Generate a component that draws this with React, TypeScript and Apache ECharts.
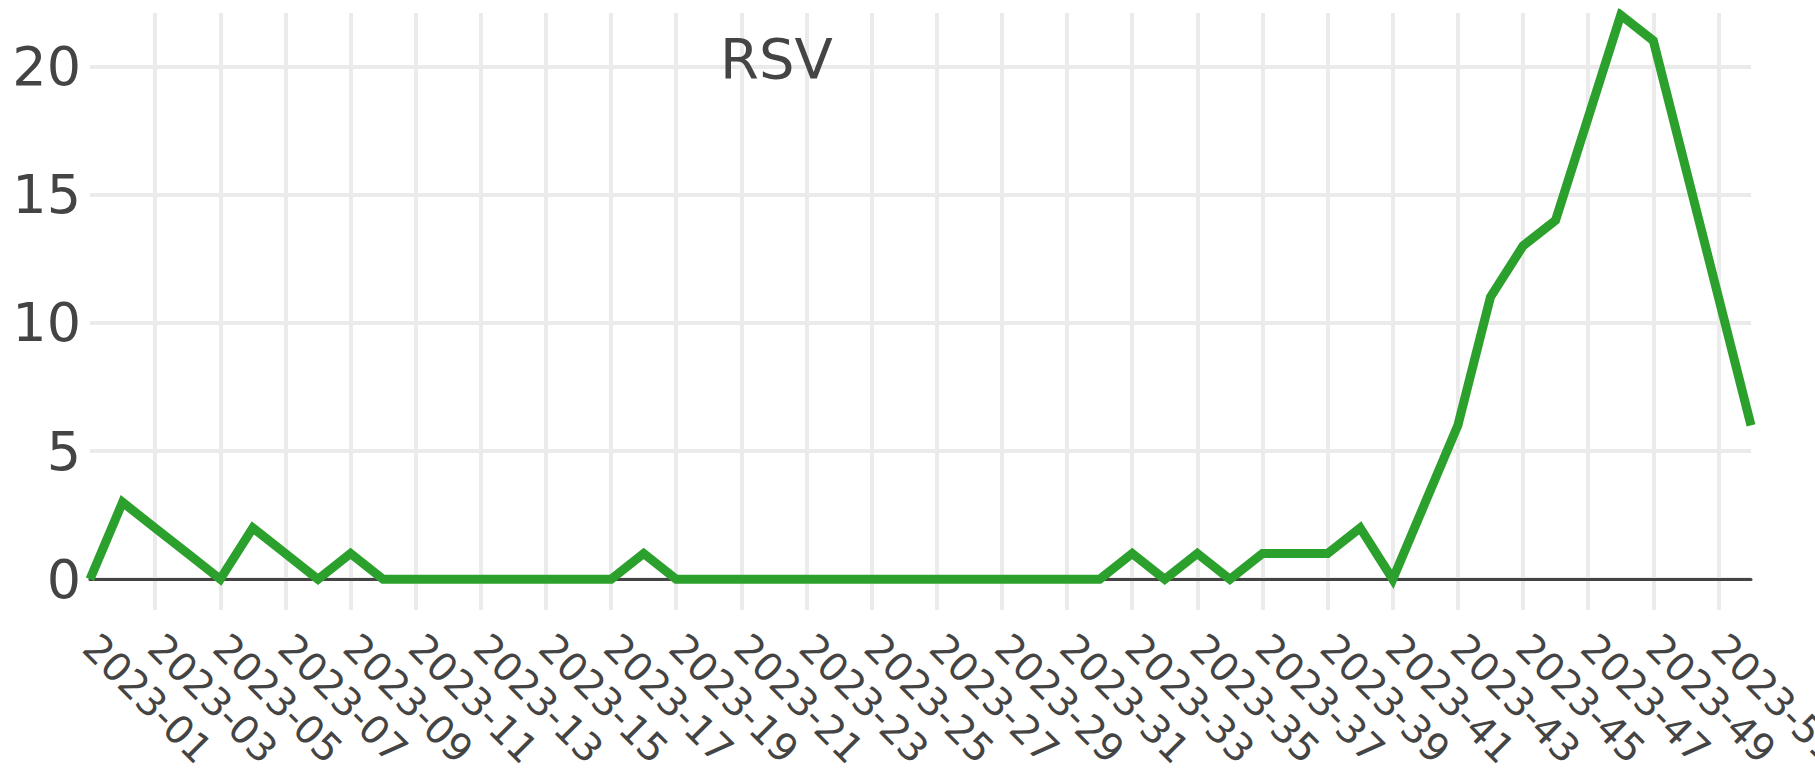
import React, { useEffect, useRef } from "react";
import * as echarts from "echarts";

const weeks: string[] = [
  "2023-01","2023-02","2023-03","2023-04","2023-05","2023-06","2023-07","2023-08","2023-09","2023-10",
  "2023-11","2023-12","2023-13","2023-14","2023-15","2023-16","2023-17","2023-18","2023-19","2023-20",
  "2023-21","2023-22","2023-23","2023-24","2023-25","2023-26","2023-27","2023-28","2023-29","2023-30",
  "2023-31","2023-32","2023-33","2023-34","2023-35","2023-36","2023-37","2023-38","2023-39","2023-40",
  "2023-41","2023-42","2023-43","2023-44","2023-45","2023-46","2023-47","2023-48","2023-49","2023-50",
  "2023-51","2023-52",
];

const rsvValues: number[] = [
  0, 3, 2, 1, 0, 2, 1, 0, 1, 0,
  0, 0, 0, 0, 0, 0, 0, 1, 0, 0,
  0, 0, 0, 0, 0, 0, 0, 0, 0, 0,
  0, 0, 1, 0, 1, 0, 1, 1, 1, 2,
  0, 3, 6, 11, 13, 14, 18, 22, 21, 16,
  11, 6,
];

const titleText = "RSV";
const yMin = -1.2;
const yMax = 22.08;

export default function App() {
  const ref = useRef<HTMLDivElement>(null);
  useEffect(() => {
    if (!ref.current) return;
    const chart = echarts.init(ref.current, null, { renderer: "svg" });
    const font = "'DejaVu Sans', Verdana, sans-serif";
    chart.setOption({
      animation: false,
      backgroundColor: "#ffffff",
      title: {
        text: titleText,
        left: 720,
        top: 30,
        padding: 0,
        textStyle: { fontFamily: font, fontSize: 56, fontWeight: "normal", color: "#444" },
      },
      grid: { left: 90, right: 64, top: 13, bottom: 164, outerBoundsMode: "none", containLabel: false },
      xAxis: {
        type: "category",
        data: weeks,
        boundaryGap: false,
        axisLine: { show: true, onZero: true, lineStyle: { color: "#444", width: 3 } },
        axisTick: { show: false },
        axisLabel: {
          interval: 1,
          rotate: -45,
          margin: 31,
          color: "#444",
          fontFamily: font,
          fontSize: 39,
        },
        splitLine: {
          show: true,
          interval: (idx: number) => idx % 2 === 0 && idx > 0,
          lineStyle: { color: "#ebebeb", width: 4 },
        },
      },
      yAxis: {
        type: "value",
        min: yMin,
        max: yMax,
        axisLine: { show: false },
        axisTick: { show: false },
        axisLabel: {
          showMinLabel: false,
          showMaxLabel: false,
          margin: 9,
          color: "#444",
          fontFamily: font,
          fontSize: 54,
        },
        splitLine: {
          show: true,
          showMinLine: false,
          showMaxLine: false,
          lineStyle: { color: "#ebebeb", width: 4 },
        },
      },
      series: [
        {
          type: "line",
          name: titleText,
          data: rsvValues,
          symbol: "none",
          lineStyle: { color: "#2ca02c", width: 9, join: "miter" },
          itemStyle: { color: "#2ca02c" },
        },
      ],
    });
    return () => chart.dispose();
  }, []);
  return (
    <div
      ref={ref}
      style={{ position: "fixed", left: 0, top: 0, width: 1815, height: 774 }}
    />
  );
}
